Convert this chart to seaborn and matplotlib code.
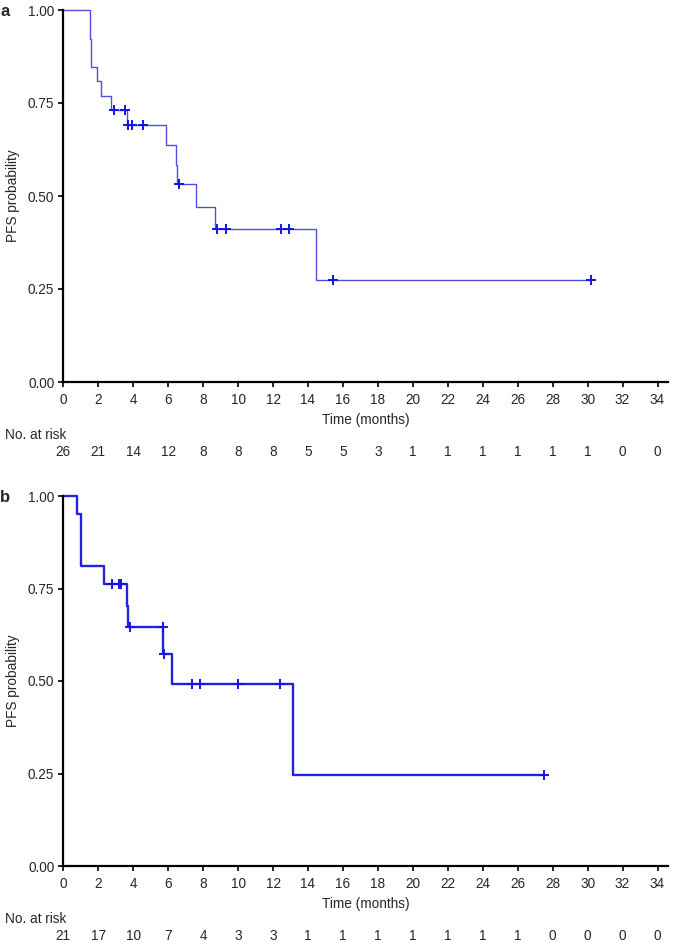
import matplotlib
matplotlib.use("Agg")
import matplotlib.pyplot as plt
import numpy as np
import pandas as pd
import seaborn as sns

# panel a: step times / survival, plus censor times
a_times = [0, 1.55, 1.61, 1.93, 2.17, 2.75, 3.63, 5.88, 6.43, 6.49, 7.57, 8.68, 14.44]
a_surv = [1.00, 0.923, 0.846, 0.808, 0.769, 0.731, 0.690, 0.637, 0.584, 0.531, 0.471, 0.412, 0.275]
a_censor = [2.90, 3.53, 3.68, 3.91, 4.58, 6.64, 8.81, 9.29, 12.45, 12.89, 15.41, 30.19]
a_risk = [26, 21, 14, 12, 8, 8, 8, 5, 5, 3, 1, 1, 1, 1, 1, 1, 0, 0]

# panel b
b_times = [0, 0.78, 1.03, 2.35, 3.64, 3.70, 5.72, 6.24, 13.16]
b_surv = [1.00, 0.952, 0.810, 0.762, 0.703, 0.646, 0.574, 0.493, 0.246]
b_censor = [2.79, 3.17, 3.30, 3.82, 5.70, 5.74, 7.38, 7.84, 9.99, 12.41, 27.48]
b_risk = [21, 17, 10, 7, 4, 3, 3, 1, 1, 1, 1, 1, 1, 1, 0, 0, 0, 0]

risk_ticks = list(range(0, 35, 2))

sns.set_theme(style="ticks")
plt.rcParams["font.family"] = ["Liberation Sans", "DejaVu Sans"]
FS = 9.8

W, H = 676, 942
fig = plt.figure(figsize=(W / 100, H / 100), dpi=100)


def surv_at(times, surv, t):
    # value of the step function at time t (right-continuous)
    idx = np.searchsorted(times, t, side="right") - 1
    return surv[idx]


def draw_panel(ax, times, surv, censor, risk, letter, line_col, lw):
    end = censor[-1]
    steps = pd.DataFrame({"time": times + [end], "surv": surv + [surv[-1]]})
    sns.lineplot(data=steps, x="time", y="surv", ax=ax, drawstyle="steps-post",
                 estimator=None, sort=False, color=line_col, linewidth=lw)
    cens = pd.DataFrame({"time": censor,
                         "surv": [surv_at(times, surv, t) for t in censor]})
    ax.plot(cens["time"], cens["surv"], linestyle="none", marker="+",
            markersize=7, markeredgewidth=1.4, color="#1414e6")
    for ln in ax.lines:
        ln.set_clip_on(False)

    ax.set_xlim(0, 34.6)
    ax.set_ylim(0, 1)
    ax.set_xticks(risk_ticks)
    ax.set_yticks([0, 0.25, 0.5, 0.75, 1.0])
    ax.set_yticklabels(["0.00", "0.25", "0.50", "0.75", "1.00"])
    ax.set_xlabel("Time (months)", fontsize=FS, labelpad=4)
    ax.set_ylabel("PFS probability", fontsize=FS)
    ax.yaxis.set_label_coords(-0.071, 0.5)
    sns.despine(ax=ax)
    for side in ["left", "bottom"]:
        ax.spines[side].set_linewidth(1.6)
        ax.spines[side].set_color("black")
    ax.tick_params(direction="out", length=3.5, width=1.2, color="black",
                   labelsize=FS, pad=3)
    ax.tick_params(axis="x", pad=4.5)

    ax.annotate("No. at risk", xy=(0, 0), xycoords="axes fraction",
                xytext=(-58, -53), textcoords="offset pixels",
                ha="left", va="center", fontsize=FS)
    for t, n in zip(risk_ticks, risk):
        ax.annotate(str(n), xy=(t, 0), xycoords=("data", "axes fraction"),
                    xytext=(0, -70), textcoords="offset pixels",
                    ha="center", va="center", fontsize=FS)
    ax.annotate(letter, xy=(0, 1), xycoords="axes fraction",
                xytext=(-63, -1), textcoords="offset pixels",
                ha="left", va="center", fontsize=12, fontweight="bold")


left = 63.3 / W
width = (668 - 63.3) / W
ax_a = fig.add_axes([left, 1 - 382 / H, width, (382 - 10) / H])
ax_b = fig.add_axes([left, 1 - 866 / H, width, (866 - 496) / H])

draw_panel(ax_a, a_times, a_surv, a_censor, a_risk, "a", "#5050e0", 1.0)
draw_panel(ax_b, b_times, b_surv, b_censor, b_risk, "b", "#2222e0", 1.7)

fig.savefig("out.png", dpi=100)
